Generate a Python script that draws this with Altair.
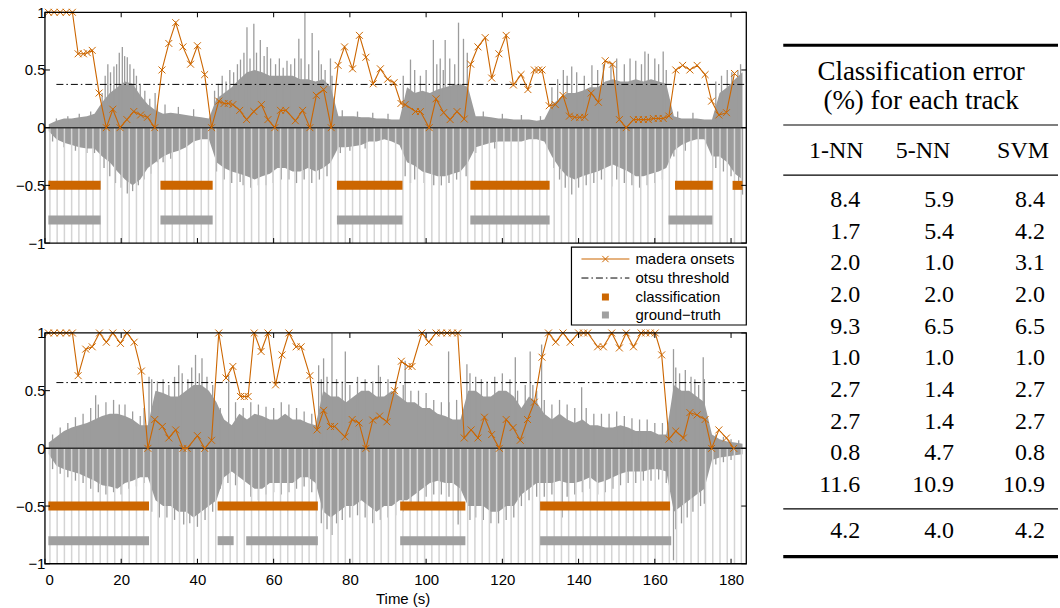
import altair as alt
import pandas as pd

# ---------------- data ----------------
XTICKS = [0, 20, 40, 60, 80, 100, 120, 140, 160, 180]
YTICKS = [-1, -0.5, 0, 0.5, 1]

WAVE_T = list(range(1, 184, 2))  # sampling grid of the envelope (s)

TOP_POS = [0.03, 0.06, 0.08, 0.08, 0.09, 0.10, 0.12, 0.22, 0.30, 0.35,
           0.40, 0.38, 0.28, 0.20, 0.15, 0.12, 0.13, 0.12, 0.11, 0.10,
           0.09, 0.08, 0.25, 0.30, 0.35, 0.42, 0.48, 0.50, 0.48, 0.45,
           0.45, 0.45, 0.45, 0.42, 0.42, 0.40, 0.42, 0.35, 0.10, 0.10,
           0.10, 0.09, 0.09, 0.08, 0.08, 0.07, 0.07, 0.35, 0.30, 0.32,
           0.30, 0.33, 0.35, 0.37, 0.38, 0.35, 0.10, 0.10, 0.09, 0.08,
           0.08, 0.07, 0.07, 0.07, 0.06, 0.07, 0.20, 0.25, 0.30, 0.30,
           0.32, 0.35, 0.35, 0.40, 0.42, 0.40, 0.40, 0.42, 0.40, 0.42,
           0.40, 0.38, 0.10, 0.08, 0.08, 0.08, 0.07, 0.07, 0.30, 0.35,
           0.42, 0.48]
TOP_NEG = [-0.03, -0.10, -0.13, -0.15, -0.17, -0.18, -0.18, -0.25, -0.30, -0.38,
           -0.45, -0.50, -0.45, -0.35, -0.30, -0.25, -0.22, -0.20, -0.17, -0.12,
           -0.10, -0.10, -0.30, -0.35, -0.38, -0.40, -0.42, -0.45, -0.42, -0.40,
           -0.35, -0.35, -0.38, -0.38, -0.35, -0.38, -0.35, -0.30, -0.17, -0.17,
           -0.16, -0.15, -0.12, -0.12, -0.10, -0.12, -0.15, -0.30, -0.33, -0.38,
           -0.40, -0.42, -0.42, -0.40, -0.38, -0.30, -0.17, -0.15, -0.13, -0.12,
           -0.12, -0.12, -0.12, -0.10, -0.10, -0.12, -0.25, -0.35, -0.42, -0.45,
           -0.42, -0.40, -0.38, -0.35, -0.32, -0.35, -0.38, -0.42, -0.42, -0.40,
           -0.38, -0.35, -0.20, -0.15, -0.12, -0.10, -0.10, -0.25, -0.25, -0.30,
           -0.40, -0.45]
BOT_POS = [0.05, 0.10, 0.15, 0.18, 0.20, 0.22, 0.25, 0.28, 0.30, 0.30,
           0.28, 0.25, 0.20, 0.20, 0.50, 0.48, 0.45, 0.45, 0.50, 0.55,
           0.55, 0.50, 0.40, 0.25, 0.20, 0.30, 0.25, 0.30, 0.28, 0.25,
           0.25, 0.30, 0.25, 0.25, 0.22, 0.20, 0.50, 0.45, 0.45, 0.40,
           0.45, 0.50, 0.50, 0.45, 0.45, 0.50, 0.45, 0.40, 0.40, 0.35,
           0.35, 0.30, 0.28, 0.25, 0.25, 0.50, 0.50, 0.45, 0.45, 0.50,
           0.50, 0.45, 0.35, 0.45, 0.40, 0.30, 0.25, 0.30, 0.25, 0.22,
           0.25, 0.20, 0.20, 0.18, 0.18, 0.20, 0.18, 0.15, 0.15, 0.15,
           0.12, 0.12, 0.55, 0.50, 0.50, 0.45, 0.40, 0.12, 0.08, 0.06,
           0.05, 0.04]
BOT_NEG = [-0.05, -0.15, -0.18, -0.20, -0.22, -0.25, -0.28, -0.32, -0.33, -0.35,
           -0.30, -0.28, -0.25, -0.25, -0.45, -0.50, -0.50, -0.55, -0.55, -0.60,
           -0.55, -0.50, -0.45, -0.25, -0.20, -0.25, -0.30, -0.35, -0.35, -0.30,
           -0.30, -0.30, -0.30, -0.25, -0.25, -0.30, -0.55, -0.60, -0.55, -0.50,
           -0.50, -0.45, -0.50, -0.55, -0.50, -0.50, -0.45, -0.45, -0.40, -0.35,
           -0.30, -0.28, -0.30, -0.30, -0.35, -0.50, -0.50, -0.50, -0.55, -0.55,
           -0.50, -0.50, -0.40, -0.35, -0.30, -0.30, -0.30, -0.28, -0.30, -0.30,
           -0.28, -0.25, -0.30, -0.28, -0.25, -0.22, -0.20, -0.20, -0.20, -0.18,
           -0.18, -0.20, -0.55, -0.50, -0.45, -0.40, -0.35, -0.10, -0.08, -0.07,
           -0.06, -0.05]

# individual peaks of the waveform (time s, amplitude)
TOP_UP_T = [3, 6, 9, 12, 15.0, 15.8, 16.5, 17.2, 18.1, 18.8, 19.5, 20.3, 20.9, 21.6,
            22.3, 23.3, 24.0, 25.0, 26.2, 27.5, 28.9, 29.5, 31.5, 35.0, 39.0,
            44.5, 45.5, 46.5, 47.5, 48.5, 49.5, 50.5, 51.3, 52.2, 53.0, 53.8, 54.8,
            55.5, 56.5, 57.5, 58.3, 59.2, 60.5, 61.5, 62.5, 63.5, 64.5, 65.5, 66.6,
            67.2, 68.2, 69.2, 70.1, 71.8, 72.5, 73.5, 74.9, 75.3, 78, 82, 86, 90,
            94.0, 95.9, 97.0, 98.5, 100.0, 101.9, 102.8, 103.7, 104.5, 105.0, 106.2,
            107.5, 108.5, 109.8, 110.8, 115, 120, 125, 130,
            133, 134.5, 136.0, 137, 138.2, 139.5, 141.5, 143.5, 145, 146.5, 148.5,
            150, 152, 153.5, 155, 156.5, 157.4, 158.3, 160, 161, 162.2, 163,
            166, 170, 176, 177.5, 179, 180.2, 181.8, 182.5]
TOP_UP_V = [0.08, 0.10, 0.12, 0.14, 0.30, 0.45, 0.55, 0.48, 0.53, 0.55, 0.65, 0.70, 0.62, 0.61,
            0.55, 0.51, 0.45, 0.38, 0.32, 0.25, 0.30, 0.20, 0.20, 0.18, 0.16,
            0.32, 0.38, 0.45, 0.40, 0.50, 0.48, 0.55, 0.59, 0.65, 0.87, 0.60, 0.90,
            0.65, 0.76, 0.62, 0.70, 0.60, 0.55, 0.60, 0.52, 0.58, 0.55, 0.60, 0.77,
            0.60, 1.0, 0.55, 0.82, 0.67, 0.55, 0.50, 0.60, 0.45, 0.15, 0.14, 0.13, 0.12,
            0.45, 0.59, 0.50, 0.45, 0.50, 0.76, 0.55, 0.60, 0.50, 0.76, 0.60,
            0.55, 0.91, 0.77, 0.65, 0.14, 0.12, 0.11, 0.10,
            0.35, 0.42, 0.50, 0.45, 0.53, 0.48, 0.45, 0.54, 0.50, 0.55, 0.55,
            0.60, 0.55, 0.60, 0.58, 0.55, 0.66, 0.64, 0.60, 0.55, 0.66, 0.50,
            0.14, 0.13, 0.40, 0.45, 0.50, 0.48, 0.50, 0.55]
TOP_DN_T = [2, 5, 8, 11, 13, 15.5, 17.0, 18.5, 20.0, 21.6, 23.0, 24.5, 26.0, 27.8,
            29.5, 31, 33, 45, 47, 49, 51.2, 52, 54, 56, 58, 59.9, 62, 64, 66, 68,
            70, 72, 74, 77.5, 80, 84, 94.5, 95.9, 97, 99.5, 102, 104, 106, 108,
            110.5, 113, 118, 133.5, 135, 136.5, 138.2, 140, 142, 144, 146, 148.7,
            150, 152, 154, 156, 158, 160, 162, 165, 168, 176, 178, 180, 182, 183]
TOP_DN_V = [-0.12, -0.17, -0.20, -0.22, -0.22, -0.35, -0.42, -0.48, -0.52, -0.57, -0.55,
            -0.50, -0.45, -0.40, -0.30, -0.30, -0.27, -0.38, -0.45, -0.48, -0.47, -0.50,
            -0.52, -0.50, -0.50, -0.48, -0.45, -0.45, -0.48, -0.45, -0.48, -0.45, -0.42,
            -0.22, -0.20, -0.18, -0.42, -0.48, -0.45, -0.48, -0.50, -0.50, -0.48, -0.45,
            -0.42, -0.22, -0.18, -0.35, -0.45, -0.52, -0.58, -0.52, -0.50, -0.48, -0.45,
            -0.51, -0.45, -0.48, -0.50, -0.52, -0.50, -0.48, -0.45, -0.25, -0.20, -0.35,
            -0.38, -0.42, -0.50, -0.58]

BOT_UP_T = [2, 4, 6, 8, 10, 12, 13.3, 14, 16, 18, 19.5, 21, 23, 25, 26, 27.3, 28, 29.5,
            31, 32.5, 34, 35.1, 36, 37.5, 38.5, 39.5, 40.5, 41.2, 42.5, 44, 46, 48.2,
            50, 52, 54, 56, 58, 60, 62, 64, 66, 68, 70, 71.8, 72.5, 73.1, 74, 75.3,
            76.5, 78, 78.8, 80, 82, 84, 86, 87.5, 88, 90, 92, 94, 94.5, 96, 98, 100,
            102, 104, 105.9, 106, 108, 110.7, 111.5, 113, 114.5, 116, 118, 120, 122,
            123.4, 124, 126, 127.3, 128, 129, 130.3, 131, 133, 135, 137, 139, 140.8,
            142, 144, 146, 148, 150, 152, 154, 156, 158, 160, 162, 164.9, 165.5,
            166.5, 168, 169.5, 170.5, 171.5, 172.7, 173, 176, 178, 180, 182]
BOT_UP_V = [0.12, 0.18, 0.22, 0.27, 0.30, 0.35, 0.46, 0.38, 0.40, 0.42, 0.38, 0.38, 0.32,
            0.28, 0.35, 0.62, 0.60, 0.58, 0.60, 0.55, 0.62, 0.72, 0.65, 0.60, 0.70, 0.81,
            0.65, 0.78, 0.62, 0.55, 0.35, 0.63, 0.40, 0.35, 0.40, 0.38, 0.36, 0.35, 0.40,
            0.38, 0.35, 0.32, 0.30, 0.72, 0.60, 0.78, 0.62, 1.0, 0.60, 0.58, 0.84, 0.55,
            0.62, 0.60, 0.58, 0.72, 0.62, 0.60, 0.58, 0.55, 0.76, 0.50, 0.50, 0.48, 0.42,
            0.40, 0.84, 0.40, 0.42, 0.73, 0.65, 0.62, 0.60, 0.58, 0.62, 0.65, 0.60, 0.79,
            0.50, 0.55, 0.84, 0.55, 0.50, 0.90, 0.42, 0.38, 0.42, 0.38, 0.35, 0.53, 0.35,
            0.30, 0.30, 0.30, 0.32, 0.28, 0.26, 0.25, 0.25, 0.22, 0.22, 0.86, 0.70, 0.65,
            0.68, 0.62, 0.60, 0.55, 0.79, 0.60, 0.12, 0.10, 0.08, 0.07]
BOT_DN_T = [2, 4, 6, 8, 10, 12, 14, 16, 18, 20, 22, 24, 26, 28, 30, 32, 34, 36.4, 38,
            40, 42, 44, 46, 48, 50, 54, 56, 58, 60, 62, 64, 66, 68, 70, 72.5, 74, 75.3,
            76.5, 78, 80, 82, 84, 86, 88, 90, 92, 94, 96, 98, 100, 102, 104, 106, 108.4,
            109, 111.5, 113, 115, 117, 119, 121, 123, 125, 127, 129, 131, 133, 135.7,
            137, 139, 141, 143, 145, 147, 149, 151, 153, 155, 157, 159, 161, 163, 164.9,
            165.5, 167, 168.5, 170, 172, 173, 176, 178, 180]
BOT_DN_V = [-0.18, -0.22, -0.25, -0.28, -0.30, -0.35, -0.38, -0.40, -0.38, -0.40, -0.35,
            -0.33, -0.30, -0.55, -0.60, -0.60, -0.62, -0.66, -0.65, -0.68, -0.62, -0.55,
            -0.35, -0.30, -0.32, -0.42, -0.45, -0.40, -0.38, -0.40, -0.38, -0.35, -0.33,
            -0.38, -0.65, -0.70, -0.75, -0.65, -0.62, -0.60, -0.58, -0.60, -0.65, -0.62,
            -0.60, -0.58, -0.55, -0.52, -0.48, -0.42, -0.40, -0.40, -0.42, -0.66, -0.48,
            -0.62, -0.60, -0.62, -0.65, -0.65, -0.62, -0.60, -0.50, -0.45, -0.42, -0.42,
            -0.40, -0.60, -0.42, -0.40, -0.38, -0.35, -0.40, -0.38, -0.35, -0.32, -0.30,
            -0.30, -0.28, -0.28, -0.27, -0.30, -0.97, -0.70, -0.65, -0.60, -0.55, -0.50,
            -0.48, -0.14, -0.12, -0.10]

STRIPE_T = [1.3, 3.2, 5.1, 7.0, 8.9, 10.8, 12.6, 14.5, 16.4, 18.3, 20.2, 22.1, 24.0,
            25.9, 27.8, 29.7, 31.5, 33.4, 35.3, 37.2, 39.1, 41.0, 42.9, 44.8, 46.7,
            48.6, 50.4, 52.3, 54.2, 56.1, 58.0, 59.9, 61.8, 63.7, 65.6, 67.5, 69.3,
            71.2, 73.1, 75.0, 76.9, 78.8, 80.7, 82.6, 84.5, 86.4, 88.2, 90.1, 92.0,
            93.9, 95.8, 97.7, 99.6, 101.5, 103.4, 105.3, 107.1, 109.0, 110.9, 112.8,
            114.7, 116.6, 118.5, 120.4, 122.3, 124.2, 126.0, 127.9, 129.8, 131.7,
            133.6, 135.5, 137.4, 139.3, 141.2, 143.1, 144.9, 146.8, 148.7, 150.6,
            152.5, 154.4, 156.3, 158.2, 160.1, 162.0, 163.8, 165.7, 167.6, 169.5,
            171.4, 173.3, 175.2, 177.1, 179.0, 180.9, 182.7]

TOP_ONSET_T = [0.9, 2.4, 4.0, 5.6, 7.2, 8.7, 10.1, 11.1, 12.4, 14.2, 16.1, 17.8, 19.7,
               21.5, 23.3, 25.1, 26.9, 28.8, 30.7, 32.5, 34.3, 36.2, 38.2, 40.0, 41.9,
               43.7, 45.6, 47.0, 48.1, 49.3, 51.1, 52.9, 54.8, 56.8, 58.5, 60.3, 61.8,
               63.2, 65.7, 67.6, 69.5, 71.2, 73.1, 75.1, 76.9, 78.6, 80.7, 82.5, 84.2,
               86.1, 88.0, 89.9, 91.6, 93.4, 94.5, 97.2, 98.5, 100.8, 102.6, 104.6,
               106.3, 108.1, 110.0, 111.7, 113.6, 115.5, 117.2, 119.1, 121.0, 122.9,
               124.9, 126.7, 128.4, 129.5, 130.4, 132.3, 133.9, 135.9, 137.6, 139.0,
               140.3, 141.6, 143.3, 145.2, 147.0, 148.9, 150.7, 152.5, 154.4, 155.7,
               157.0, 158.3, 159.6, 160.9, 162.2, 163.7, 165.5, 167.3, 169.2, 171.1,
               173.2, 174.9, 176.8, 178.8, 180.9]
TOP_ONSET_V = [1, 1, 1, 1, 1, 0.64, 0.64, 0.65, 0.67, 0.30, 0, 0.16, 0,
               0.07, 0.14, 0.11, 0.09, 0, 0.50, 0.73, 0.91, 0.70, 0.55, 0.71, 0.46,
               0, 0.23, 0.21, 0.21, 0.20, 0.15, 0.07, 0.14, 0.20, 0.07, 0, 0.15,
               0.15, 0.06, 0.15, 0, 0.28, 0.33, 0, 0.54, 0.70, 0.51, 0.80, 0.61,
               0.38, 0.51, 0.42, 0.39, 0.21, 0.20, 0.14, 0.14, 0, 0.25, 0.13,
               0.07, 0.14, 0.075, 0.55, 0.70, 0.78, 0.43, 0.64, 0.80, 0.37,
               0.46, 0.33, 0.50, 0.50, 0.50, 0.19, 0.20, 0.28, 0.10, 0.09,
               0.09, 0.09, 0.30, 0.22, 0.58, 0.55, 0.07, 0, 0.07, 0.07,
               0.07, 0.07, 0.08, 0.08, 0.08, 0.10, 0.50, 0.54, 0.50, 0.54,
               0.46, 0.23, 0.11, 0.13, 0.47]
BOT_ONSET_T = [0.9, 2.4, 4.0, 5.6, 7.2, 8.7, 10.7, 12.4, 14.3, 16.1, 17.8, 19.8, 21.5,
               23.4, 25.3, 27.0, 28.8, 30.8, 32.5, 34.3, 36.2, 37.3, 40.0, 41.9, 43.7,
               45.6, 47.5, 49.3, 51.3, 52.3, 53.3, 54.9, 56.7, 58.5, 60.5, 62.2, 64.0,
               65.9, 67.2, 69.5, 71.4, 73.1, 74.9, 76.0, 78.7, 80.6, 82.4, 84.2, 86.0,
               87.8, 89.7, 91.7, 93.5, 95.3, 96.3, 98.9, 100.7, 102.6, 104.0, 105.5,
               106.9, 108.3, 110.0, 111.8, 113.6, 115.3, 117.2, 119.2, 121.0, 122.8,
               124.7, 126.6, 128.4, 130.4, 132.1, 134.0, 135.9, 137.8, 140.0, 141.3,
               142.4, 145.0, 146.5, 148.7, 150.7, 152.5, 154.4, 156.4, 157.6, 158.8,
               160.1, 161.8, 163.7, 165.5, 167.5, 169.2, 171.1, 173.2, 174.9, 176.8,
               178.8, 180.7]
BOT_ONSET_V = [1, 1, 1, 1, 1, 0.63, 0.86, 0.88, 1.0, 0.92, 1.0, 0.91, 1.0,
               0.92, 0.67, 0, 0.25, 0.19, 0.09, 0.16, 0, 0, 0.11, 0, 0.07,
               1.0, 0.61, 0.71, 0.45, 0.45, 0.45, 1.0, 0.84, 1.0, 0.55, 0.81, 1.0,
               0.88, 0.88, 0.63, 0.16, 0.33, 0.19, 0.19, 0.10, 0.25, 0.22, 0, 0.245,
               0.28, 0.23, 0.50, 0.755, 0.71, 0.71, 1.0, 0.92, 1.0, 1.0, 1.0,
               1.0, 1.0, 0.09, 0.16, 0.09, 0.27, 0.12, 0, 0.25, 0.18,
               0.07, 0.25, 0.40, 0.79, 1.0, 0.92, 1.0, 0.92, 1.0, 1.0,
               1.0, 0.88, 0.88, 1.0, 0.87, 1.0, 0.88, 1.0, 1.0, 1.0,
               1.0, 0.81, 0.08, 0.15, 0.09, 0.31, 0.29, 0.25, 0, 0.16,
               0.09, 0]

TOP_CLASS_START = [0.9, 30.3, 76.6, 111.6, 165.3, 180.4]
TOP_CLASS_END = [14.6, 44.0, 93.8, 132.4, 175.2, 183.0]
TOP_GT_START = [0.9, 30.3, 76.6, 111.6, 163.6]
TOP_GT_END = [14.6, 44.0, 93.8, 132.4, 175.1]
BOT_CLASS_START = [0.9, 45.3, 93.2, 129.9]
BOT_CLASS_END = [27.3, 71.6, 110.3, 164.0]
BOT_GT_START = [0.9, 45.3, 52.8, 93.2, 129.9]
BOT_GT_END = [27.3, 49.5, 71.6, 110.3, 164.3]
CLASS_LEVEL = -0.5
GT_LEVEL = -0.8

TOP_THRESHOLD = 0.375
BOT_THRESHOLD = 0.57

LEGEND_LABELS = ["madera onsets", "otsu threshold", "classification", "ground\u2212truth"]

TABLE_TITLE = ["Classification error", "(%) for each track"]
TABLE_HEADERS = ["1-NN", "5-NN", "SVM"]
ERR_1NN = [8.4, 1.7, 2.0, 2.0, 9.3, 1.0, 2.7, 2.7, 0.8, 11.6]
ERR_5NN = [5.9, 5.4, 1.0, 2.0, 6.5, 1.0, 1.4, 1.4, 4.7, 10.9]
ERR_SVM = [8.4, 4.2, 3.1, 2.0, 6.5, 1.0, 2.7, 2.7, 0.8, 10.9]
ERR_MEAN = [4.2, 4.0, 4.2]

# ---------------- styling ----------------
ORANGE = "#CC6600"
WAVE_GRAY = "#9c9c9c"
BAR_GRAY = "#a0a0a0"
STRIPE = "#d4d4d4"
FONT = "Liberation Sans"
SERIF = "Liberation Serif"
PW, PH = 702, 231
XMARK = "M-1,-1L1,1M-1,1L1,-1"
NO_VIEW = alt.ViewBackground(stroke="transparent", strokeWidth=0)

xs = alt.Scale(domain=[0, 184], nice=False, zero=False)
ys = alt.Scale(domain=[-1, 1], nice=False, zero=False)
ONE = pd.DataFrame({"a": [0]})


def make_panel(pos, neg, up_t, up_v, dn_t, dn_v, on_t, on_v, c_s, c_e, g_s, g_e,
               thr, bottom, legend):
    if bottom:
        xaxis = alt.Axis(values=XTICKS, ticks=False, domain=False, grid=False,
                         labelPadding=9, title="Time (s)", titlePadding=4, titleX=358,
                         labelFont=FONT, labelFontSize=15, labelColor="black",
                         titleFont=FONT, titleFontSize=15, titleFontWeight="normal",
                         titleColor="black")
    else:
        xaxis = None
    yaxis = alt.Axis(values=YTICKS, format="~g", ticks=False, domain=False, grid=False,
                     labelPadding=0, title=None, labelFont=FONT, labelFontSize=15,
                     labelColor="black")

    def X(f):
        return alt.X(f, scale=xs, axis=xaxis)

    def Y(f):
        return alt.Y(f, scale=ys, axis=yaxis)

    wave = pd.DataFrame({"t": WAVE_T, "pos": pos, "neg": neg})
    area = alt.Chart(wave).mark_area(color=WAVE_GRAY, opacity=1).encode(
        x=X("t:Q"), y=Y("pos:Q"), y2="neg:Q")
    spk_t = up_t + dn_t
    spk_v = up_v + dn_v
    spk_df = pd.DataFrame({"t": spk_t, "v": spk_v, "z": [0] * len(spk_t)})
    spikes = alt.Chart(spk_df).mark_rule(color=WAVE_GRAY, strokeWidth=1.3).encode(
        x=X("t:Q"), y=Y("v:Q"), y2="z:Q")
    str_df = pd.DataFrame({"t": STRIPE_T, "y0": [0] * len(STRIPE_T), "y1": [-1] * len(STRIPE_T)})
    stripes = alt.Chart(str_df).mark_rule(color=STRIPE, strokeWidth=1.5).encode(
        x=X("t:Q"), y=Y("y0:Q"), y2="y1:Q")
    zero = alt.Chart(ONE).mark_rule(color="#333333", strokeWidth=1.5).encode(y=Y("a:Q"))
    thr_df = pd.DataFrame({"x0": [3], "x1": [184], "y": [thr]})
    thresh = alt.Chart(thr_df).mark_rule(color="black", strokeWidth=1,
                                         strokeDash=[7, 3, 1.5, 3]).encode(
        x=X("x0:Q"), x2="x1:Q", y=Y("y:Q"))
    gt_df = pd.DataFrame({"s": g_s, "e": g_e, "y": [GT_LEVEL] * len(g_s)})
    gt = alt.Chart(gt_df).mark_rule(color=BAR_GRAY, strokeWidth=9, strokeCap="butt").encode(
        x=X("s:Q"), x2="e:Q", y=Y("y:Q"))
    cl_df = pd.DataFrame({"s": c_s, "e": c_e, "y": [CLASS_LEVEL] * len(c_s)})
    cls = alt.Chart(cl_df).mark_rule(color=ORANGE, strokeWidth=9, strokeCap="butt").encode(
        x=X("s:Q"), x2="e:Q", y=Y("y:Q"))
    onset_df = pd.DataFrame({"t": on_t, "v": on_v})
    oline = alt.Chart(onset_df).mark_line(color=ORANGE, strokeWidth=1.1).encode(
        x=X("t:Q"), y=Y("v:Q"))
    opts = alt.Chart(onset_df).mark_point(shape=XMARK, size=48, filled=False,
                                          color=ORANGE, strokeWidth=1, opacity=1).encode(
        x=X("t:Q"), y=Y("v:Q"))
    xt = pd.DataFrame({"v": XTICKS})
    yt = pd.DataFrame({"v": YTICKS})
    tick_top = alt.Chart(xt).mark_rule(color="black", strokeWidth=1).encode(
        x=X("v:Q"), y=alt.value(0), y2=alt.value(5))
    tick_bot = alt.Chart(xt).mark_rule(color="black", strokeWidth=1).encode(
        x=X("v:Q"), y=alt.value(PH - 5), y2=alt.value(PH))
    tick_l = alt.Chart(yt).mark_rule(color="black", strokeWidth=1).encode(
        y=Y("v:Q"), x=alt.value(0), x2=alt.value(5))
    tick_r = alt.Chart(yt).mark_rule(color="black", strokeWidth=1).encode(
        y=Y("v:Q"), x=alt.value(PW - 5), x2=alt.value(PW))
    frame = alt.Chart(ONE).mark_rect(fillOpacity=0, stroke="black", strokeWidth=1.3).encode(
        x=alt.value(0), x2=alt.value(PW), y=alt.value(0), y2=alt.value(PH))

    layers = [area, spikes, stripes, zero, thresh, gt, cls, oline, opts,
              tick_top, tick_bot, tick_l, tick_r, frame]

    if legend:
        bx0, bx1, by0, by1 = 527, 702, 235, 313
        rows = [247, 266, 285, 303]
        box = alt.Chart(ONE).mark_rect(fill="white", stroke="black", strokeWidth=1.2).encode(
            x=alt.value(bx0), x2=alt.value(bx1), y=alt.value(by0), y2=alt.value(by1))
        l1 = alt.Chart(ONE).mark_rule(color=ORANGE, strokeWidth=1.1).encode(
            x=alt.value(537), x2=alt.value(585), y=alt.value(rows[0]), y2=alt.value(rows[0]))
        l1p = alt.Chart(ONE).mark_point(shape=XMARK, size=40, filled=False, color=ORANGE,
                                        strokeWidth=1, opacity=1).encode(
            x=alt.value(561), y=alt.value(rows[0]))
        l2 = alt.Chart(ONE).mark_rule(color="black", strokeWidth=1,
                                      strokeDash=[7, 3, 1.5, 3]).encode(
            x=alt.value(537), x2=alt.value(585), y=alt.value(rows[1]), y2=alt.value(rows[1]))
        l3 = alt.Chart(ONE).mark_square(color=ORANGE, size=49, opacity=1).encode(
            x=alt.value(561), y=alt.value(rows[2]))
        l4 = alt.Chart(ONE).mark_square(color=BAR_GRAY, size=49, opacity=1).encode(
            x=alt.value(561), y=alt.value(rows[3]))
        layers += [box, l1, l1p, l2, l3, l4]
        for lbl, r in zip(LEGEND_LABELS, rows):
            layers.append(alt.Chart(ONE).mark_text(
                align="left", baseline="middle", font=FONT, fontSize=15, color="black",
                text=lbl).encode(x=alt.value(591), y=alt.value(r)))
    return alt.layer(*layers).properties(width=PW, height=PH, view=NO_VIEW)


top = make_panel(TOP_POS, TOP_NEG, TOP_UP_T, TOP_UP_V, TOP_DN_T, TOP_DN_V,
                 TOP_ONSET_T, TOP_ONSET_V,
                 TOP_CLASS_START, TOP_CLASS_END, TOP_GT_START, TOP_GT_END,
                 TOP_THRESHOLD, bottom=False, legend=True)
bottom = make_panel(BOT_POS, BOT_NEG, BOT_UP_T, BOT_UP_V, BOT_DN_T, BOT_DN_V,
                    BOT_ONSET_T, BOT_ONSET_V,
                    BOT_CLASS_START, BOT_CLASS_END, BOT_GT_START, BOT_GT_END,
                    BOT_THRESHOLD, bottom=True, legend=False)

left = alt.vconcat(top, bottom, spacing=0)

# ---------------- table ----------------
TW, TH = 275, 560
STEP = 31.7
R_TOP = -4.89 - 33 / STEP
R_BOT = R_TOP + TH / STEP
COL_RIGHT = [77, 171, 262]
COL_CENTER = [53, 140, 240]

cells = []
for j, col in enumerate([ERR_1NN, ERR_5NN, ERR_SVM]):
    for i, v in enumerate(col):
        cells.append({"x": COL_RIGHT[j], "r": i, "txt": f"{v:.1f}"})
    cells.append({"x": COL_RIGHT[j], "r": 10.44, "txt": f"{ERR_MEAN[j]:.1f}"})
cells_df = pd.DataFrame(cells)
head_df = pd.DataFrame({"x": COL_CENTER, "r": [-1.55] * 3, "txt": TABLE_HEADERS})
title_df = pd.DataFrame({"x": [138, 138], "r": [-4.04, -3.12], "txt": TABLE_TITLE})
thick_df = pd.DataFrame({"r": [-4.89, 11.26]})
thin_df = pd.DataFrame({"r": [-2.37, -0.79, 9.75]})

tx = alt.Scale(domain=[0, TW], nice=False, zero=False)
ty = alt.Scale(domain=[R_TOP, R_BOT], nice=False, zero=False, reverse=True)


def TX(f):
    return alt.X(f, scale=tx, axis=None)


def TY(f):
    return alt.Y(f, scale=ty, axis=None)


t_cells = alt.Chart(cells_df).mark_text(align="right", baseline="middle", font=SERIF,
                                        fontSize=24, color="black").encode(
    x=TX("x:Q"), y=TY("r:Q"), text="txt:N")
t_head = alt.Chart(head_df).mark_text(align="center", baseline="middle", font=SERIF,
                                      fontSize=24, color="black").encode(
    x=TX("x:Q"), y=TY("r:Q"), text="txt:N")
t_title = alt.Chart(title_df).mark_text(align="center", baseline="middle", font=SERIF,
                                        fontSize=27, color="black").encode(
    x=TX("x:Q"), y=TY("r:Q"), text="txt:N")
t_thick = alt.Chart(thick_df).mark_rule(color="black", strokeWidth=3.2).encode(y=TY("r:Q"))
t_thin = alt.Chart(thin_df).mark_rule(color="black", strokeWidth=1.1).encode(y=TY("r:Q"))

table = alt.layer(t_thick, t_thin, t_title, t_head, t_cells).properties(
    width=TW, height=TH, view=NO_VIEW)

chart = alt.hconcat(left, table, spacing=34).properties(
    padding={"left": 15, "top": 5, "right": 0, "bottom": 0}
).configure_view(stroke="transparent", strokeWidth=0).configure(font=FONT)

chart.save("out.html", embed_options={"renderer": "svg", "actions": False})
